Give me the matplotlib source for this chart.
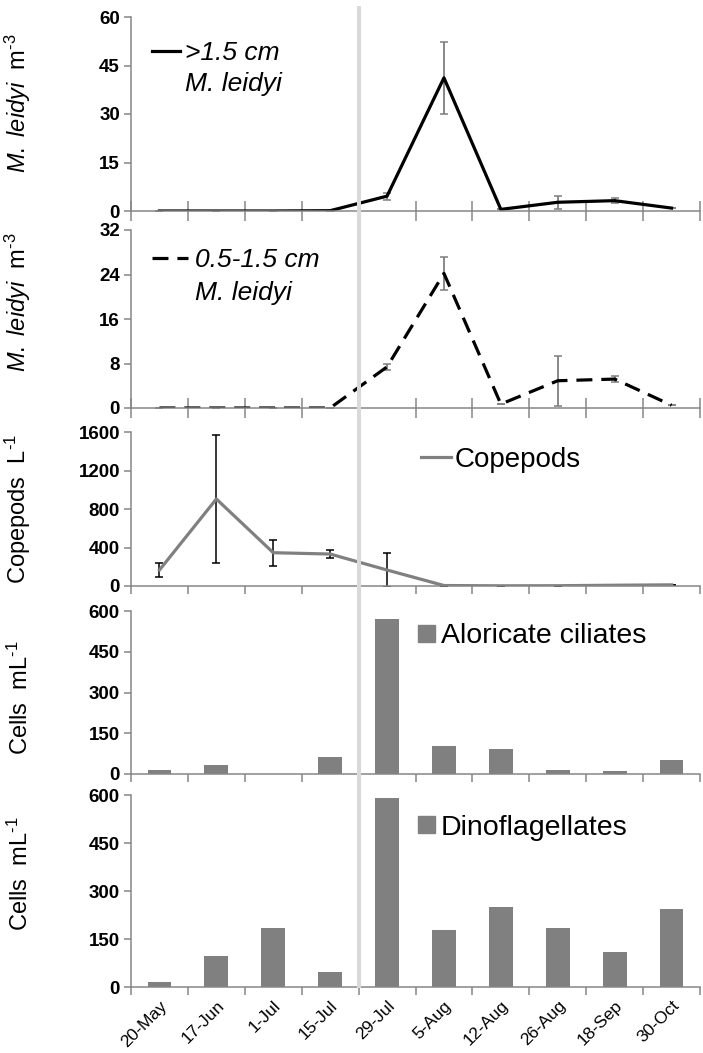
import numpy as np
import matplotlib
matplotlib.use("Agg")
import matplotlib.pyplot as plt
from matplotlib.lines import Line2D
from matplotlib.patches import Patch
from matplotlib.transforms import blended_transform_factory

plt.rcParams['font.family'] = ['Liberation Sans', 'DejaVu Sans']
plt.rcParams['mathtext.fontset'] = 'custom'
plt.rcParams['mathtext.rm'] = 'Liberation Sans'
plt.rcParams['mathtext.it'] = 'Liberation Sans:italic'

dates = ['20-May', '17-Jun', '1-Jul', '15-Jul', '29-Jul', '5-Aug',
         '12-Aug', '26-Aug', '18-Sep', '30-Oct']

large = [0, 0, 0, 0.1, 4.6, 41.2, 0.5, 2.7, 3.2, 0.9]
large_err = [0, 0, 0, 0, 1.1, 11.2, 0, 2.0, 0.7, 0]

small = [0, 0, 0, 0, 7.4, 24.2, 0.7, 4.9, 5.2, 0.5]
small_err = [0, 0, 0, 0, 0.6, 2.9, 0, 4.5, 0.6, 0]

copepods = [166, 904, 346, 332, 166, 5, 2, 3, 8, 12]
copepods_err = [73, 667, 135, 43, 180, 0, 0, 0, 0, 0]

aloricate = [15, 32, 0, 62, 569, 102, 92, 13, 11, 53]
dino = [17, 98, 184, 46, 590, 179, 249, 184, 108, 243]

W, H = 703, 1053
fig = plt.figure(figsize=(W / 100, H / 100), dpi=100)

left = 131 / W
width = (700 - 131) / W
# (top px, bottom px) of each panel
rows = [(17, 211), (230, 408), (432, 586), (611, 774), (795, 987)]
axes = []
for top, bot in rows:
    ax = fig.add_axes([left, 1 - bot / H, width, (bot - top) / H])
    ax.patch.set_visible(False)
    axes.append(ax)
ax1, ax2, ax3, ax4, ax5 = axes

x = np.arange(len(dates))
axis_gray = '#868686'

for ax in axes:
    ax.set_xlim(-0.5, len(dates) - 0.5)
    for s in ['top', 'right']:
        ax.spines[s].set_visible(False)
    ax.spines['left'].set_color(axis_gray)
    ax.spines['bottom'].set_color(axis_gray)
    ax.spines['left'].set_linewidth(1.1)
    ax.spines['bottom'].set_linewidth(1.1)
    ax.set_xticks(np.arange(len(dates) + 1) - 0.5)
    ax.set_xticklabels([])
    ax.tick_params(axis='y', direction='out', length=5, width=1.1, color=axis_gray,
                   labelsize=13.5, pad=3)
    for t in ax.get_yticklabels():
        t.set_fontweight('bold')

# panel 1
ax1.errorbar(x, large, yerr=large_err, color='black', lw=2.3, ecolor='#7f7f7f',
             elinewidth=1.3, capsize=3, capthick=1.1)
ax1.set_ylim(0, 60)
ax1.set_yticks([0, 15, 30, 45, 60])
ax1.tick_params(axis='x', direction='inout', length=14, width=1.1, color=axis_gray)
h1 = [Line2D([], [], color='black', lw=2.3), Line2D([], [], lw=0)]
ax1.legend(h1, ['>1.5 cm', 'M. leidyi'], loc='upper left', bbox_to_anchor=(0.037, 0.874),
           frameon=False, prop={'size': 19, 'style': 'italic'}, handlelength=1.06,
           handletextpad=0.2, borderpad=0, borderaxespad=0, labelspacing=0.24)

# panel 2
ax2.errorbar(x, small, yerr=small_err, color='black', lw=2.3, ecolor='#7f7f7f',
             elinewidth=1.3, capsize=3, capthick=1.1, dashes=(5, 2.8))
ax2.set_ylim(0, 32)
ax2.set_yticks([0, 8, 16, 24, 32])
ax2.tick_params(axis='x', direction='inout', length=14, width=1.1, color=axis_gray)
h2 = [Line2D([], [], color='black', lw=2.3, dashes=(5, 2.8)), Line2D([], [], lw=0)]
ax2.legend(h2, ['0.5-1.5 cm', 'M. leidyi'], loc='upper left', bbox_to_anchor=(0.037, 0.898),
           frameon=False, prop={'size': 19, 'style': 'italic'}, handlelength=1.36,
           handletextpad=0.27, borderpad=0, borderaxespad=0, labelspacing=0.35)

# panel 3
ax3.errorbar(x, copepods, yerr=copepods_err, color='#808080', lw=2.3, ecolor='black',
             elinewidth=1.1, capsize=3, capthick=1.1, label='Copepods')
ax3.set_ylim(0, 1600)
ax3.set_yticks([0, 400, 800, 1200, 1600])
ax3.tick_params(axis='x', direction='out', length=6, width=1.1, color=axis_gray)
ax3.legend([Line2D([], [], color='#808080', lw=2.3)], ['Copepods'], loc='upper left',
           bbox_to_anchor=(0.509, 0.904), frameon=False, fontsize=20, handlelength=1.08,
           handletextpad=0.15, borderpad=0, borderaxespad=0)

# panel 4
ax4.bar(x, aloricate, width=0.42, color='#808080')
ax4.set_ylim(0, 600)
ax4.set_yticks([0, 150, 300, 450, 600])
ax4.tick_params(axis='x', direction='out', length=6, width=1.1, color=axis_gray)
ax4.legend([Patch(color='#808080')], ['Aloricate ciliates'], loc='upper left',
           bbox_to_anchor=(0.505, 0.925), frameon=False, fontsize=20.5, handlelength=0.58,
           handleheight=0.55, handletextpad=0.2, borderpad=0, borderaxespad=0)

# panel 5
ax5.bar(x, dino, width=0.42, color='#808080')
ax5.set_ylim(0, 600)
ax5.set_yticks([0, 150, 300, 450, 600])
ax5.tick_params(axis='x', which='major', direction='out', length=6, width=1.1,
                color=axis_gray)
ax5.set_xticks(x, minor=True)
ax5.set_xticklabels(dates, minor=True, rotation=45, ha='right', rotation_mode='anchor',
                    fontsize=12.5)
ax5.tick_params(axis='x', which='minor', length=0, pad=8)
ax5.legend([Patch(color='#808080')], ['Dinoflagellates'], loc='upper left',
           bbox_to_anchor=(0.505, 0.896), frameon=False, fontsize=20.5, handlelength=0.58,
           handleheight=0.55, handletextpad=0.2, borderpad=0, borderaxespad=0)

ylabels = [r'$\it{M.\ leidyi}$  m$^{\text{-3}}$', r'$\it{M.\ leidyi}$  m$^{\text{-3}}$',
           r'Copepods  L$^{\text{-1}}$', r'Cells  mL$^{\text{-1}}$', r'Cells  mL$^{\text{-1}}$']
label_y = [0.557, 0.596, 0.5, 0.466, 0.589]
for ax, lab, ly in zip(axes, ylabels, label_y):
    ax.set_ylabel(lab, fontsize=17)
    ax.yaxis.set_label_coords(-0.172, ly)

# grey divider between 15-Jul and 29-Jul across all panels
tr = blended_transform_factory(ax5.transData, fig.transFigure)
fig.add_artist(Line2D([3.5, 3.5], [1 - 986 / H, 1 - 8 / H], transform=tr,
                      color='#d9d9d9', lw=2.9, zorder=5))

fig.savefig('out.png', dpi=100)
